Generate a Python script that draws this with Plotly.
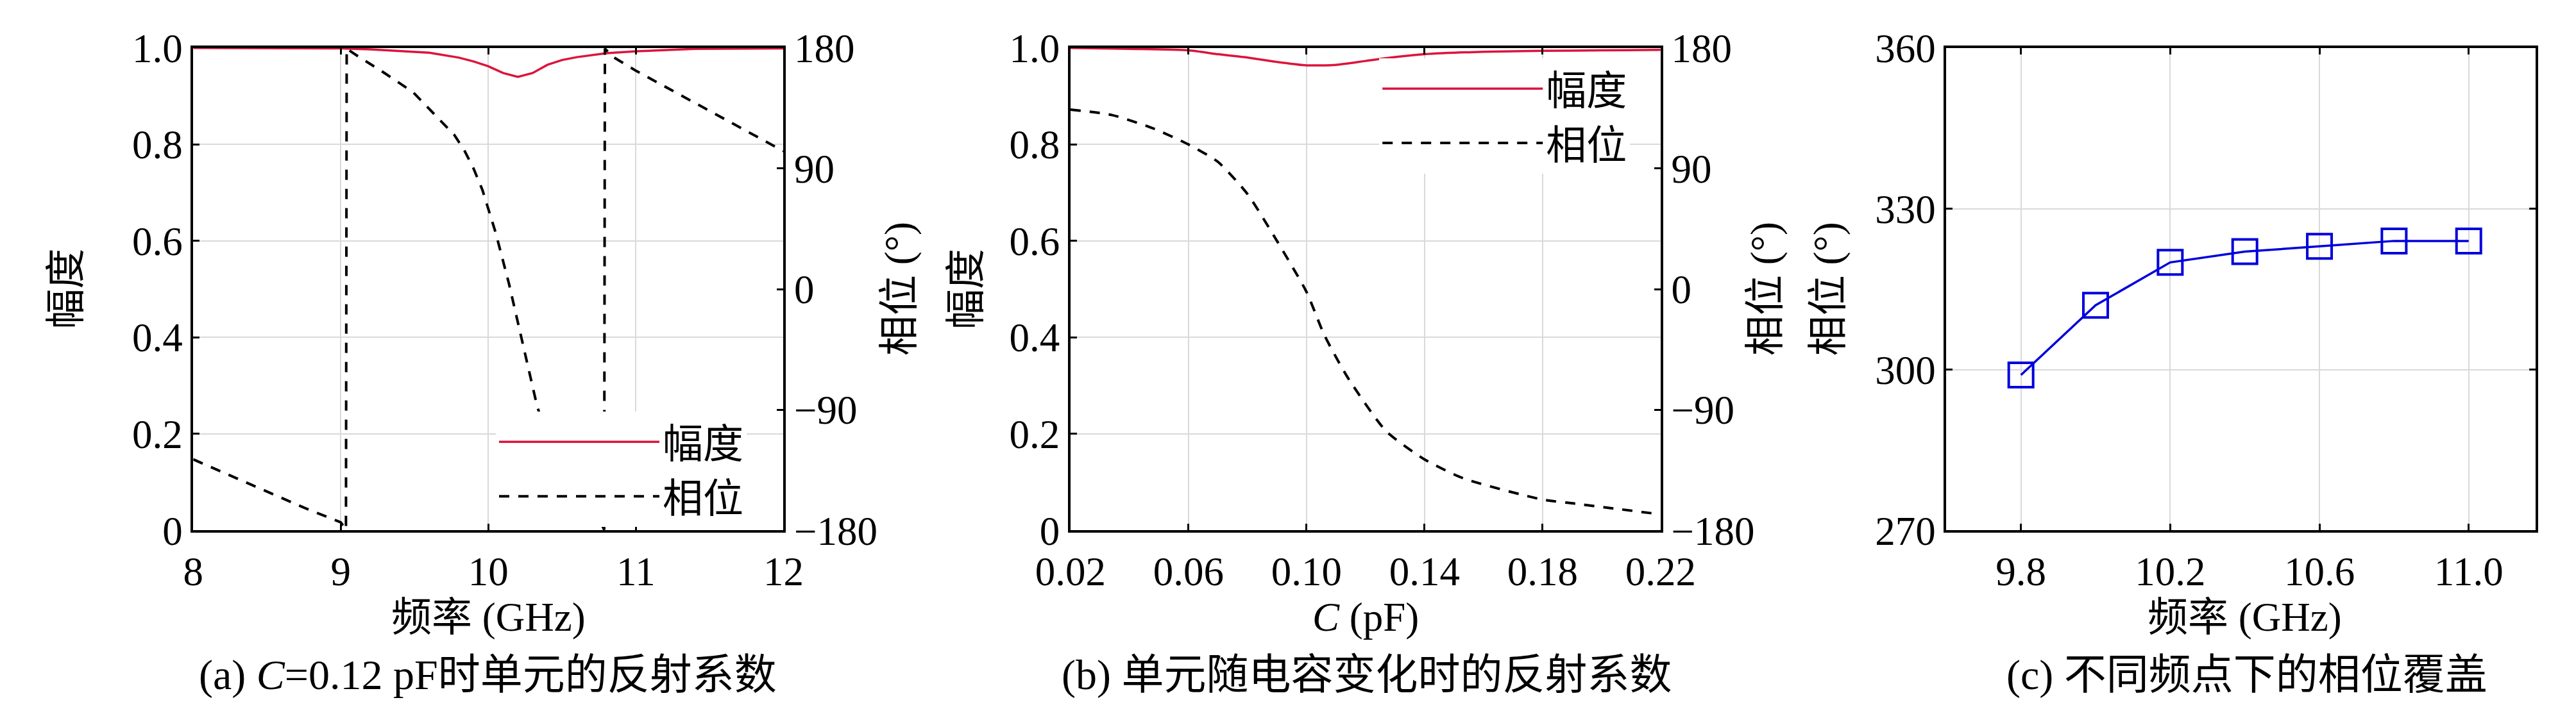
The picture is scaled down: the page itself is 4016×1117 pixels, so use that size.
import plotly.graph_objects as go

W, H = 4016, 1117

# (a) C = 0.12 pF: reflection vs frequency
freq_a_mag = [8.0, 8.5, 9.0, 9.2, 9.4, 9.6, 9.8, 9.9, 10.0, 10.1, 10.2, 10.3, 10.4, 10.5, 10.6, 10.8, 11.0, 11.2, 11.4, 12.0]
mag_a = [1.0, 1.0, 0.999, 0.997, 0.994, 0.99, 0.98, 0.972, 0.962, 0.948, 0.94, 0.948, 0.965, 0.975, 0.981, 0.989, 0.993, 0.996, 0.998, 0.999]

freq_a_phase = [8.0, 8.25, 8.5, 8.75, 9.0, 9.035, 9.04, 9.1, 9.3, 9.49, 9.63, 9.77, 9.84, 9.9, 9.96, 10.05, 10.14,
                10.22, 10.33, 10.42, 10.52, 10.62, 10.7, 10.77, 10.785, 10.79, 10.85, 11.0, 11.2, 11.4, 11.6, 11.8, 12.0]
phase_a = [-127, -139, -151, -163, -174, -179.5, 179.5, 175, 161, 147, 131, 115, 103, 90, 74, 42, 4,
           -34, -87, -118, -142, -160, -170, -176, -179.5, 179.5, 173, 163, 151, 139, 127, 115, 103]

# (b) reflection vs capacitance
cap_b = [0.02, 0.034, 0.048, 0.06, 0.07, 0.08, 0.09, 0.10, 0.106, 0.114, 0.127, 0.14, 0.153, 0.18, 0.191, 0.22]
phase_b = [134, 130, 120, 108, 95, 71, 36, -2, -34, -66, -106, -127, -141, -157, -160, -168]
cap_b_mag = [0.02, 0.04, 0.06, 0.07, 0.08, 0.09, 0.10, 0.11, 0.12, 0.13, 0.14, 0.16, 0.18, 0.20, 0.22]
mag_b = [1.0, 0.998, 0.995, 0.987, 0.98, 0.971, 0.964, 0.965, 0.973, 0.981, 0.987, 0.992, 0.994, 0.995, 0.996]

# (c) phase coverage at several frequencies
freq_c = [9.8, 10.0, 10.2, 10.4, 10.6, 10.8, 11.0]
phase_c = [299, 312, 320, 322, 323, 324, 324]

mag_ticks = [0, 0.2, 0.4, 0.6, 0.8, 1.0]
mag_ticktext = ["0", "0.2", "0.4", "0.6", "0.8", "1.0"]
phase_ticks = [-180, -90, 0, 90, 180]
cov_ticks = [270, 300, 330, 360]

FONT = "Liberation Serif, Noto Sans CJK SC"
FS = 63
CAP_FS = 66
RED = "#DC143C"
BLUE = "#0000DD"
GRID = "#d9d9d9"


def px(x):
    return x / W


def py(y):
    return 1 - y / H


fig = go.Figure()

fig.add_trace(go.Scatter(x=freq_a_mag, y=mag_a, mode="lines", name="幅度",
                         line=dict(color=RED, width=3.5), xaxis="x", yaxis="y", legend="legend"))
fig.add_trace(go.Scatter(x=freq_a_phase, y=phase_a, mode="lines", name="相位",
                         line=dict(color="black", width=4, dash="16px,14px"), xaxis="x", yaxis="y2", legend="legend"))

fig.add_trace(go.Scatter(x=cap_b_mag, y=mag_b, mode="lines", name="幅度",
                         line=dict(color=RED, width=3.5, shape="spline", smoothing=0.6),
                         xaxis="x2", yaxis="y3", legend="legend2"))
fig.add_trace(go.Scatter(x=cap_b, y=phase_b, mode="lines", name="相位",
                         line=dict(color="black", width=4, dash="16px,14px", shape="spline", smoothing=0.6),
                         xaxis="x2", yaxis="y4", legend="legend2"))

fig.add_trace(go.Scatter(x=freq_c, y=phase_c, mode="lines+markers", showlegend=False,
                         line=dict(color=BLUE, width=3.5),
                         marker=dict(symbol="square-open", size=38, color=BLUE, line=dict(color=BLUE, width=4)),
                         xaxis="x3", yaxis="y5"))

ydom = [py(838), py(35)]
common = dict(showline=True, linecolor="black", linewidth=4, ticks="inside", ticklen=10, tickwidth=3,
              tickcolor="black", showgrid=True, gridcolor=GRID, gridwidth=2, zeroline=False,
              tickfont=dict(family=FONT, size=FS, color="black"))
xcommon = dict(common, ticklabelstandoff=6)

fig.update_layout(
    width=W, height=H,
    margin=dict(l=0, r=0, t=0, b=0),
    paper_bgcolor="white", plot_bgcolor="white",
    font=dict(family=FONT, size=FS, color="black"),
    xaxis=dict(domain=[px(245), px(1191)], range=[8, 12], tickvals=[8, 9, 10, 11, 12],
               anchor="y", mirror="ticks", **xcommon),
    yaxis=dict(domain=ydom, range=[0, 1], tickvals=mag_ticks, ticktext=mag_ticktext,
               anchor="x", mirror=True, **common),
    yaxis2=dict(range=[-180, 180], tickvals=phase_ticks, overlaying="y", side="right", anchor="x",
                **{**common, "showgrid": False}),
    xaxis2=dict(domain=[px(1651), px(2597)], range=[0.02, 0.22],
                tickvals=[0.02, 0.06, 0.10, 0.14, 0.18, 0.22], tickformat=".2f",
                anchor="y3", mirror="ticks", **xcommon),
    yaxis3=dict(domain=ydom, range=[0, 1], tickvals=mag_ticks, ticktext=mag_ticktext,
                anchor="x2", mirror=True, **common),
    yaxis4=dict(range=[-180, 180], tickvals=phase_ticks, overlaying="y3", side="right", anchor="x2",
                **{**common, "showgrid": False}),
    xaxis3=dict(domain=[px(3055), px(4000)], range=[9.6, 11.18],
                tickvals=[9.8, 10.2, 10.6, 11.0], tickformat=".1f",
                anchor="y5", mirror="ticks", **xcommon),
    yaxis5=dict(domain=ydom, range=[270, 360], tickvals=cov_ticks,
                anchor="x3", mirror="ticks", **common),
    legend=dict(x=px(730), y=py(640), xanchor="left", yanchor="top", bgcolor="white",
                borderwidth=0, itemwidth=250, font=dict(family=FONT, size=FS)),
    legend2=dict(x=px(2146), y=py(52), xanchor="left", yanchor="top", bgcolor="white",
                 borderwidth=0, itemwidth=250, font=dict(family=FONT, size=FS)),
)

annotations = [
    # axis titles
    dict(x=px(41), y=py(436), text="幅度", textangle=-90, size=FS),
    dict(x=px(1376), y=py(436), text="相位 (°)", textangle=-90, size=FS),
    dict(x=px(1483), y=py(436), text="幅度", textangle=-90, size=FS),
    dict(x=px(2764), y=py(436), text="相位 (°)", textangle=-90, size=FS),
    dict(x=px(2865), y=py(436), text="相位 (°)", textangle=-90, size=FS),
    dict(x=px(718), y=py(983), text="频率 (GHz)", size=FS),
    dict(x=px(2124), y=py(983), text="<i>C</i> (pF)", size=FS),
    dict(x=px(3533), y=py(983), text="频率 (GHz)", size=FS),
    # captions
    dict(x=px(717), y=py(1079), text="(a) <i>C</i>=0.12 pF时单元的反射系数", size=CAP_FS),
    dict(x=px(2126), y=py(1079), text="(b) 单元随电容变化时的反射系数", size=CAP_FS),
    dict(x=px(3537), y=py(1079), text="(c) 不同频点下的相位覆盖", size=CAP_FS),
]
for a in annotations:
    size = a.pop("size")
    fig.add_annotation(xref="paper", yref="paper", showarrow=False, xanchor="center", yanchor="middle",
                       font=dict(family=FONT, size=size, color="black"), **a)

fig.write_html("out.html")
